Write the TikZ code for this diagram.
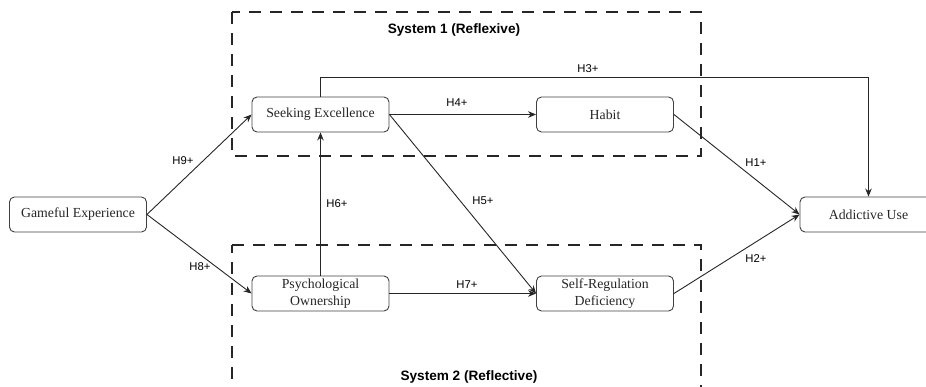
\documentclass[tikz,border=0pt]{standalone}
\usepackage{fontspec}
\setmainfont{Liberation Serif}
\newfontfamily\labfont{Liberation Sans}
\usetikzlibrary{arrows.meta}
\begin{document}
\begin{tikzpicture}[x=1pt,y=-1pt,
  box/.style={draw=black!75,line width=0.9pt,rounded corners=5pt,minimum width=137pt,minimum height=35pt,inner sep=1pt,align=center,font=\fontsize{13.8}{16.5}\selectfont,text=black!85},
  lab/.style={font=\labfont\fontsize{11.3}{12}\selectfont,inner sep=0pt},
  syslab/.style={font=\labfont\bfseries\fontsize{13.6}{14}\selectfont,inner sep=0pt},
  sysbox/.style={draw=black!85,line width=1.1pt,dash pattern=on 12pt off 9pt},
  conn/.style={draw=black!85,line width=0.9pt,-{Stealth[length=8pt,width=6.5pt]}}]
\useasboundingbox (0,0) rectangle (926,387);
% system boxes
\draw[sysbox] (232,12) rectangle (701,156);
\draw[sysbox] (232,245) -- (701,245) -- (701,400);
\draw[sysbox] (232,400) -- (232,245);
\node[syslab] (s1) at (454,30) {System 1 (Reflexive)};
\node[syslab] (s2) at (469,377) {System 2 (Reflective)};
% nodes
\node[box] (ge) at (78,214.5) {Gameful Experience};
\node[box] (se) at (320.5,114.5) {Seeking Excellence};
\node[box] (hb) at (605,114.5) {Habit};
\node[box] (po) at (320.5,293.5) {Psychological\\Ownership};
\node[box] (sr) at (605,293.5) {Self-Regulation\\Deficiency};
\node[box] (au) at (868.5,214.5) {Addictive Use};
% connectors
\draw[conn] (ge.east) -- (se.west);
\draw[conn] (ge.east) -- (po.west);
\draw[conn] (se.east) -- (hb.west);
\draw[conn] (se.east) -- (sr.west);
\draw[conn] (po.north) -- (se.south);
\draw[conn] (po.east) -- (sr.west);
\draw[conn] (hb.east) -- (au.west);
\draw[conn] (sr.east) -- (au.west);
\coordinate (c1) at (320.5,77);
\coordinate (c2) at (868.5,77);
\draw[conn] (se.north) -- (c1) -- (c2) -- (au.north);
% labels
\node[lab] (l9) at (183,161) {H9+};
\node[lab] (l8) at (200,267) {H8+};
\node[lab] (l6) at (337,204) {H6+};
\node[lab] (l4) at (457,103) {H4+};
\node[lab] (l5) at (483,201) {H5+};
\node[lab] (l7) at (467,285) {H7+};
\node[lab] (l3) at (588,69) {H3+};
\node[lab] (l1) at (756,163) {H1+};
\node[lab] (l2) at (756,259) {H2+};
\end{tikzpicture}
\end{document}
